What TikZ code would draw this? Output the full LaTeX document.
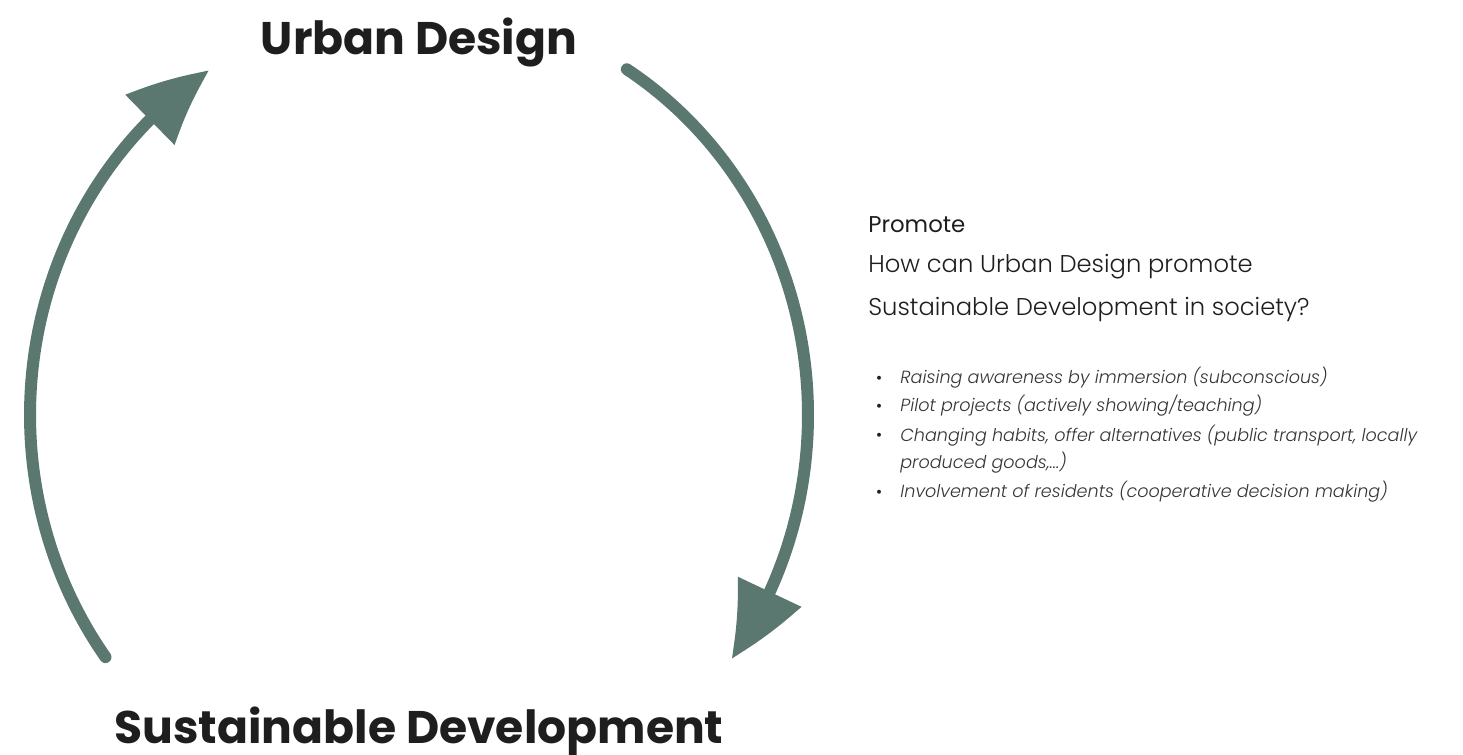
\documentclass[tikz,border=0pt]{standalone}
\usepackage{fontspec}
\setmainfont{Poppins}
\newfontfamily\lightfont{Poppins Light}
\usetikzlibrary{positioning}
\usetikzlibrary{arrows.meta}
\usetikzlibrary{bending}

\definecolor{sage}{HTML}{5A786F}
\definecolor{ink}{HTML}{1E1E1E}

\begin{document}
\begin{tikzpicture}[
    x=0.02cm, y=0.02cm,
    cycle arrow/.style = {-{Triangle[length=1.55cm, width=1.34cm, bend]}, line width=0.24cm, sage, line cap=round},
    % Stile per i titoli del ciclo
    title/.style = {font=\bfseries\fontsize{26}{30}\selectfont, text=ink, anchor=base, inner sep=0pt},
    heading/.style = {font=\fontsize{13}{16}\selectfont, text=ink, anchor=base west, inner sep=0pt},
    question/.style = {font=\lightfont\fontsize{13.8}{25}\selectfont, text=ink, anchor=base west, align=left, inner sep=0pt},
    bullet/.style = {font=\fontsize{9}{12}\selectfont, text=ink, anchor=base, inner sep=0pt},
    point/.style = {font=\lightfont\itshape\fontsize{10}{15.9}\selectfont, text=ink!90, anchor=base west, align=left, inner sep=0pt}
    ]

    \useasboundingbox (0,0) rectangle (1463,754);

    % --- Titoli ---
    \node[title] (ud) at (419, 699) {Urban Design};
    \node[title] (sd) at (419, 11) {Sustainable Development};

    % --- Estremi delle frecce sull'ellisse ---
    \coordinate (sd-out) at ({419+389*cos(216.3)}, {339+409*sin(216.3)});
    \coordinate (ud-out) at ({419+389*cos(57.7)}, {339+409*sin(57.7)});

    % --- Frecce del ciclo ---
    \draw[cycle arrow] (sd-out) arc[start angle=216.3, end angle=122.6, x radius=389, y radius=409];
    \draw[cycle arrow] (ud-out) arc[start angle=57.7, end angle=-36.6, x radius=389, y radius=409];

    % --- Testo a destra (la base del nodo e' l'ultima riga) ---
    \node[heading] (promote) at (868, 521) {Promote};
    \node[question] (quest) at (868, 438) {How can Urban Design promote\\Sustainable Development in society?};

    \foreach \i/\y/\b/\txt in {1/370/370/{Raising awareness by immersion (subconscious)},
                               2/342/342/{Pilot projects (actively showing/teaching)},
                               3/313/285/{Changing habits, offer alternatives (public transport, locally\\produced goods,...)},
                               4/256/256/{Involvement of residents (cooperative decision making)}} {
        \node[bullet] (dot\i) at (879, \y) {\textbullet};
        \node[point] (pt\i) at (900, \b) {\txt};
    }

\end{tikzpicture}
\end{document}
